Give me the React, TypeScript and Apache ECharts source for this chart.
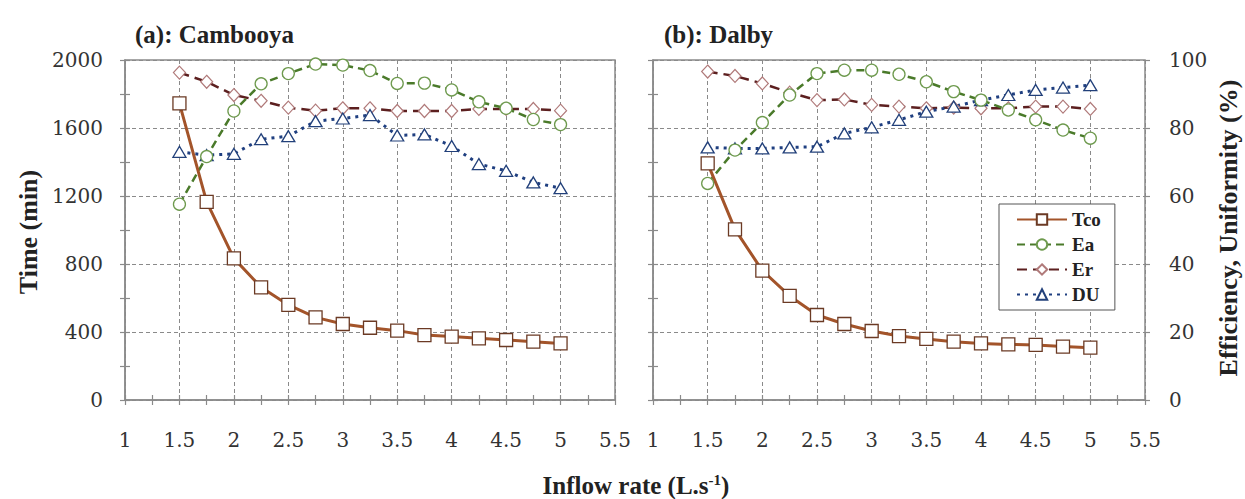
import React, { useEffect, useRef } from 'react';
import * as echarts from 'echarts';

// Inflow rate (L/s)
const inflow = [1.5, 1.75, 2, 2.25, 2.5, 2.75, 3, 3.25, 3.5, 3.75, 4, 4.25, 4.5, 4.75, 5];

// (a) Cambooya
const tcoA = [1745, 1165, 833, 663, 559, 486, 447, 425, 408, 382, 373, 363, 353, 343, 333];
const eaA = [57.6, 71.6, 85, 93, 96, 98.8, 98.5, 96.9, 93.1, 93.2, 91.2, 87.7, 85.8, 82.5, 81];
const erA = [96.3, 93.6, 89.7, 88, 86, 85.1, 85.8, 85.8, 85, 85, 85, 85.6, 85.6, 85.6, 85.1];
const duA = [73, 72, 72.4, 76.7, 77.6, 82, 82.8, 83.8, 77.8, 78.1, 74.7, 69.4, 67.4, 64, 62.3];

// (b) Dalby
const tcoB = [1392, 1004, 761, 612, 500, 447, 406, 376, 359, 343, 333, 327, 324, 314, 308];
const eaB = [63.7, 73.5, 81.6, 89.7, 96, 97, 97, 95.8, 93.6, 90.7, 88.2, 85.3, 82.4, 79.4, 77];
const erB = [96.6, 95.3, 93.1, 90.4, 88.2, 88.4, 86.8, 86.3, 85.8, 86, 85.8, 85.8, 86.3, 86.3, 85.6];
const duB = [74.3, 74, 74, 74.3, 74.5, 78.4, 80.2, 82.4, 84.8, 86.3, 88.2, 89.7, 91.2, 91.9, 92.6];

const seriesNames = ['Tco', 'Ea', 'Er', 'DU'];
const panelTitles = ['(a): Cambooya', '(b): Dalby'];
const yTitleLeft = 'Time (min)';
const yTitleRight = 'Efficiency, Uniformity (%)';

const TICK_FONT = 'DejaVu Serif';
const BOLD_FONT = 'Liberation Serif';
const AX = '#8a8a8a';
const GRIDC = '#8a8a8a';

const pairs = (ys: number[]) => inflow.map((x, i) => [x, ys[i]]);
const plain = (v: number) => String(v);

const styles: Record<string, any> = {
  Tco: {
    symbol: 'rect', symbolSize: 13,
    itemStyle: { color: '#ffffff', borderColor: '#6b3a24', borderWidth: 1.3 },
    lineStyle: { color: '#a3542a', width: 3, type: 'solid' },
  },
  Ea: {
    symbol: 'circle', symbolSize: 12,
    itemStyle: { color: '#ffffff', borderColor: '#6e9a4e', borderWidth: 1.3 },
    lineStyle: { color: '#4a7a2a', width: 2.5, type: [8, 5] },
  },
  Er: {
    symbol: 'diamond', symbolSize: [12, 13],
    itemStyle: { color: '#ffffff', borderColor: '#b07a7a', borderWidth: 1.2 },
    lineStyle: { color: '#5c1f1f', width: 2.5, type: [10, 6] },
  },
  DU: {
    symbol: 'triangle', symbolSize: [13, 11],
    itemStyle: { color: '#ffffff', borderColor: '#22407a', borderWidth: 1.3 },
    lineStyle: { color: '#1f3f80', width: 3, type: [3, 5] },
  },
};

const mkSeries = (name: string, data: number[], xi: number, yi: number) => ({
  type: 'line',
  name,
  xAxisIndex: xi,
  yAxisIndex: yi,
  data: pairs(data),
  showSymbol: true,
  ...styles[name],
});

export default function App() {
  const ref = useRef<HTMLDivElement>(null);
  useEffect(() => {
    document.body.style.margin = '0';
    const chart = echarts.init(ref.current!, null, { renderer: 'svg' });

    const rectA = { left: 125, top: 60, width: 490, height: 340 };
    const rectB = { left: 653, top: 60, width: 492, height: 340 };

    const tickLabel = { fontFamily: TICK_FONT, fontSize: 20, color: '#333', formatter: plain };

    const mainX = (gridIndex: number) => ({
      type: 'value', gridIndex, min: 1, max: 5.5, interval: 0.5,
      axisLine: { show: true, lineStyle: { color: AX, width: 1.5 } },
      axisTick: { show: true, length: 5, lineStyle: { color: AX, width: 1.2 } },
      minorTick: { show: true, splitNumber: 2, length: 5, lineStyle: { color: AX, width: 1.2 } },
      splitLine: { show: true, lineStyle: { color: GRIDC, width: 1, type: [4, 3] } },
      axisLabel: { ...tickLabel, margin: 30 },
    });
    const tickX = (gridIndex: number) => ({
      type: 'value', gridIndex, min: 1, max: 5.5, interval: 0.25,
      axisLine: { show: false },
      axisTick: { show: true, inside: true, length: 5, lineStyle: { color: AX, width: 1.2 } },
      axisLabel: { show: false },
      splitLine: { show: false },
    });

    const option: any = {
      animation: false,
      backgroundColor: '#ffffff',
      grid: [
        { ...rectA, show: true, borderColor: AX, borderWidth: 1.5, backgroundColor: 'transparent' },
        { ...rectA },
        { ...rectB, show: true, borderColor: AX, borderWidth: 1.5, backgroundColor: 'transparent' },
        { ...rectB },
      ],
      xAxis: [mainX(0), tickX(1), mainX(2), tickX(3)],
      yAxis: [
        {
          type: 'value', gridIndex: 0, position: 'left', min: 0, max: 2000, interval: 400,
          axisLine: { show: true, lineStyle: { color: AX, width: 1.5 } },
          axisTick: { show: true, length: 5, lineStyle: { color: AX, width: 1.2 } },
          minorTick: { show: true, splitNumber: 2, length: 5, lineStyle: { color: AX, width: 1.2 } },
          splitLine: { show: true, lineStyle: { color: GRIDC, width: 1, type: [4, 3] } },
          axisLabel: { ...tickLabel, margin: 22 },
        },
        { type: 'value', gridIndex: 0, position: 'right', min: 0, max: 100, show: false },
        {
          type: 'value', gridIndex: 1, position: 'left', min: 0, max: 2000, interval: 200,
          axisLine: { show: false },
          axisTick: { show: true, inside: true, length: 5, lineStyle: { color: AX, width: 1.2 } },
          axisLabel: { show: false }, splitLine: { show: false },
        },
        {
          type: 'value', gridIndex: 2, position: 'left', min: 0, max: 100, interval: 20,
          axisLine: { show: true, lineStyle: { color: AX, width: 1.5 } },
          axisTick: { show: true, length: 5, lineStyle: { color: AX, width: 1.2 } },
          minorTick: { show: true, splitNumber: 2, length: 5, lineStyle: { color: AX, width: 1.2 } },
          splitLine: { show: true, lineStyle: { color: GRIDC, width: 1, type: [4, 3] } },
          axisLabel: { show: false },
        },
        {
          type: 'value', gridIndex: 2, position: 'right', min: 0, max: 100, interval: 20,
          axisLine: { show: false },
          axisTick: { show: true, length: 5, lineStyle: { color: AX, width: 1.2 } },
          splitLine: { show: false },
          axisLabel: { ...tickLabel, margin: 24 },
        },
        { type: 'value', gridIndex: 2, min: 0, max: 2000, show: false },
        {
          type: 'value', gridIndex: 3, position: 'left', min: 0, max: 100, interval: 10,
          axisLine: { show: false },
          axisTick: { show: true, inside: true, length: 5, lineStyle: { color: AX, width: 1.2 } },
          axisLabel: { show: false }, splitLine: { show: false },
        },
      ],
      legend: {
        orient: 'vertical',
        left: 999, top: 204,
        itemWidth: 50, itemHeight: 13, itemGap: 6,
        padding: [6, 14, 6, 17],
        borderColor: '#555', borderWidth: 1, backgroundColor: '#ffffff',
        selectedMode: false,
        textStyle: { fontFamily: BOLD_FONT, fontWeight: 'bold', fontSize: 19, color: '#222' },
        data: seriesNames,
      },
      series: [
        mkSeries('Er', erA, 0, 1),
        mkSeries('DU', duA, 0, 1),
        mkSeries('Ea', eaA, 0, 1),
        mkSeries('Tco', tcoA, 0, 0),
        mkSeries('Er', erB, 2, 3),
        mkSeries('DU', duB, 2, 3),
        mkSeries('Ea', eaB, 2, 3),
        mkSeries('Tco', tcoB, 2, 5),
      ],
      graphic: [
        {
          type: 'text', left: 135, top: 22,
          style: { text: panelTitles[0], font: `bold 25px "${BOLD_FONT}"`, fill: '#222' },
        },
        {
          type: 'text', left: 664, top: 22,
          style: { text: panelTitles[1], font: `bold 25px "${BOLD_FONT}"`, fill: '#222' },
        },
        {
          type: 'text', x: 28, y: 232, rotation: Math.PI / 2,
          style: { text: yTitleLeft, font: `bold 26px "${BOLD_FONT}"`, fill: '#222', align: 'center', verticalAlign: 'middle' },
        },
        {
          type: 'text', x: 1228, y: 228, rotation: Math.PI / 2,
          style: { text: yTitleRight, font: `bold 26px "${BOLD_FONT}"`, fill: '#222', align: 'center', verticalAlign: 'middle' },
        },
        {
          type: 'text', x: 636, y: 485,
          style: {
            text: '{a|Inflow rate (L.s}{s|-1}{a|)}',
            align: 'center', verticalAlign: 'middle',
            rich: {
              a: { fontFamily: BOLD_FONT, fontWeight: 'bold', fontSize: 25, fill: '#222', color: '#222' },
              s: { fontFamily: BOLD_FONT, fontWeight: 'bold', fontSize: 15, fill: '#222', color: '#222', verticalAlign: 'top', padding: [0, 0, 10, 0] },
            },
          },
        },
      ],
    };

    chart.setOption(option);
    return () => chart.dispose();
  }, []);
  return <div ref={ref} style={{ width: 1245, height: 499 }} />;
}
